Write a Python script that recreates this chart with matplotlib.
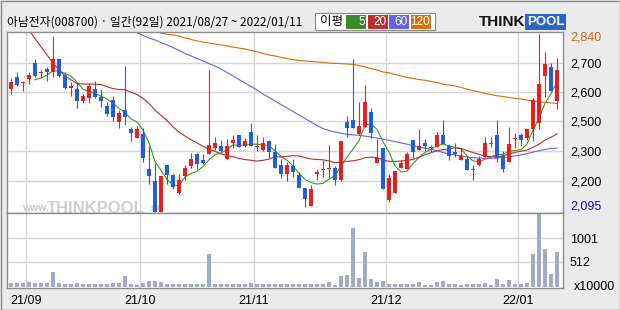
import numpy as np
import pandas as pd
import matplotlib
matplotlib.use("Agg")
import matplotlib.pyplot as plt
from matplotlib.patches import Rectangle

plt.rcParams['font.family'] = ['Noto Sans CJK KR', 'DejaVu Sans']

nan = np.nan

title = "아남전자(008700) · 일간(92일) 2021/08/27 ~ 2022/01/11"

# 일봉 (2021/08/27 ~ 2022/01/11, 92일)
opens = [2610, 2660, 2635, 2650, 2720, 2675, 2695, 2680, 2735, 2670,
         2615, 2610, 2560, 2570, 2610, 2575, 2540, 2565, 2470, 2520,
         2440, 2405, 2420, 2275, 2225, 2095, 2290, 2250, 2175, 2245,
         2285, 2335, 2310, 2335, 2360, 2370, 2315, 2385, 2415, 2370,
         2430, 2365, 2355, 2390, 2345, 2290, 2255, 2285, 2250, 2195,
         2120, 2255, 2270, 2275, 2280, 2230, 2470, 2480, 2420, 2450,
         2515, 2300, 2360, 2145, 2175, 2280, 2275, 2395, 2355, 2385,
         2365, 2365, 2415, 2370, 2345, 2310, 2315, 2270, 2290, 2325,
         2385, 2415, 2330, 2305, 2400, 2415, 2405, 2440, 2465, 2665,
         2700, 2560]
highs = [2655, 2680, 2645, 2680, 2735, 2690, 2700, 2830, 2735, 2680,
         2640, 2635, 2590, 2635, 2645, 2610, 2555, 2580, 2520, 2705,
         2450, 2455, 2445, 2370, 2300, 2245, 2290, 2255, 2255, 2290,
         2340, 2340, 2335, 2690, 2410, 2395, 2400, 2415, 2415, 2405,
         2465, 2415, 2410, 2395, 2380, 2315, 2305, 2315, 2260, 2195,
         2205, 2275, 2310, 2375, 2285, 2390, 2495, 2735, 2555, 2625,
         2530, 2400, 2360, 2255, 2265, 2310, 2345, 2395, 2440, 2400,
         2375, 2430, 2480, 2380, 2385, 2360, 2330, 2290, 2330, 2410,
         2410, 2480, 2350, 2450, 2425, 2425, 2440, 2570, 2840, 2765,
         2720, 2740]
lows = [2590, 2620, 2600, 2630, 2660, 2655, 2645, 2660, 2660, 2610,
        2580, 2530, 2550, 2550, 2570, 2535, 2495, 2475, 2445, 2460,
        2390, 2405, 2305, 2210, 2095, 2095, 2210, 2190, 2170, 2230,
        2280, 2275, 2295, 2335, 2355, 2345, 2315, 2360, 2365, 2365,
        2370, 2350, 2350, 2320, 2280, 2235, 2225, 2240, 2195, 2115,
        2120, 2230, 2240, 2235, 2205, 2225, 2410, 2445, 2415, 2450,
        2405, 2300, 2190, 2135, 2175, 2280, 2275, 2320, 2355, 2350,
        2345, 2365, 2380, 2310, 2325, 2310, 2270, 2230, 2285, 2325,
        2365, 2305, 2260, 2305, 2360, 2370, 2395, 2390, 2440, 2575,
        2600, 2525]
closes = [2640, 2625, 2640, 2670, 2665, 2680, 2680, 2735, 2665, 2615,
          2620, 2560, 2580, 2620, 2575, 2560, 2505, 2490, 2510, 2490,
          2425, 2440, 2320, 2245, 2095, 2245, 2250, 2200, 2230, 2280,
          2315, 2295, 2300, 2375, 2385, 2350, 2370, 2395, 2365, 2390,
          2370, 2370, 2385, 2345, 2280, 2255, 2290, 2260, 2195, 2150,
          2190, 2260, 2275, 2280, 2230, 2390, 2445, 2445, 2455, 2555,
          2425, 2320, 2190, 2235, 2265, 2300, 2335, 2345, 2370, 2370,
          2360, 2415, 2380, 2330, 2335, 2330, 2270, 2275, 2315, 2385,
          2380, 2320, 2275, 2380, 2405, 2395, 2440, 2565, 2630, 2715,
          2600, 2690]
# 거래량 (x10000)
volumes = [82, 82, 82, 102, 82, 82, 82, 307, 68, 61,
           61, 82, 48, 61, 61, 48, 61, 82, 82, 225,
           55, 34, 82, 123, 123, 102, 61, 61, 48, 61,
           61, 48, 48, 676, 61, 48, 61, 48, 48, 48,
           82, 48, 48, 61, 61, 48, 48, 48, 48, 48,
           48, 48, 61, 102, 34, 219, 239, 1209, 184, 717,
           157, 102, 123, 61, 48, 61, 61, 48, 102, 34,
           34, 102, 123, 61, 61, 34, 61, 48, 48, 82,
           34, 157, 61, 137, 61, 48, 82, 669, 1489, 785,
           260, 717]

# 이평선: 20일선 앞부분, 60/120일선은 차트에서 읽은 값 (기간 이전 데이터 필요)
ma20_lead = [nan, nan, nan, 2856, 2821, 2786, 2752, 2719, 2689, 2664,
             2648, 2633, 2630, 2630, 2630, 2628, 2619, 2611, 2607]
ma60 = [nan] * 21 + [
    2845, 2834, 2823, 2815, 2804, 2794, 2783, 2771, 2758, 2748,
    2737, 2727, 2716, 2706, 2693, 2679, 2664, 2649, 2635, 2620,
    2605, 2588, 2574, 2559, 2544, 2530, 2515, 2500, 2486, 2471,
    2456, 2444, 2435, 2429, 2424, 2419, 2417, 2415, 2412, 2408,
    2404, 2399, 2394, 2389, 2383, 2378, 2372, 2366, 2361, 2356,
    2351, 2343, 2337, 2333, 2329, 2324, 2321, 2320, 2319, 2319,
    2320, 2323, 2324, 2329, 2333, 2339, 2345, 2351, 2356, 2360,
    2362]
ma120 = [nan] * 25 + [
    2844, 2839, 2836, 2832, 2823, 2817, 2811, 2806, 2802, 2798,
    2794, 2790, 2785, 2781, 2777, 2771, 2765, 2758, 2752, 2748,
    2742, 2737, 2733, 2729, 2727, 2725, 2723, 2721, 2718, 2717,
    2716, 2714, 2713, 2708, 2702, 2695, 2689, 2681, 2677, 2670,
    2664, 2658, 2654, 2649, 2646, 2641, 2637, 2630, 2626, 2622,
    2616, 2609, 2603, 2597, 2591, 2586, 2581, 2578, 2574, 2570,
    2568, 2563, 2559, 2556, 2554, 2551, 2549]

month_idx = [3, 22, 41, 63, 85]
month_labels = ['21/09', '21/10', '21/11', '21/12', '22/01']
price_grid = [2717, 2596, 2475, 2348, 2225]
price_grid_labels = ['2,700', '2,600', '2,500', '2,300', '2,200']
vol_grid = [512, 1001]
vol_grid_labels = ['512', '1001']
ma_names = ['5', '20', '60', '120']

RED = '#f01c1c'
BLUE = '#1f5ee0'
MA_COLORS = ['#3a9a1c', '#b5302a', '#6a62dc', '#d86c00']
BOX_COLORS = ['#3d8c2c', '#c0302a', '#6464e0', '#e07000']
GRID = '#d6d6d6'
FRAME = '#8c8c8c'
NUM_FONT = ['Liberation Sans', 'DejaVu Sans']

W, H = 620, 310


def fx(px):
    return px / W


def fy(py):
    return 1 - py / H


s_close = pd.Series(closes, dtype=float)
ma5 = s_close.rolling(5).mean().values
ma20 = s_close.rolling(20).mean().values
ma20[:len(ma20_lead)] = ma20_lead

x = np.arange(len(closes))
o = np.array(opens, float)
c = np.array(closes, float)
col = np.where(c >= o, RED, BLUE)

fig = plt.figure(figsize=(6.2, 3.1), dpi=100, facecolor='#ebebeb')
ax = fig.add_axes([fx(7), fy(212.5), fx(556), 180.8 / H])
axv = fig.add_axes([fx(7), fy(287.7), fx(556), 75.2 / H], sharex=ax)

for a in (ax, axv):
    a.set_facecolor('white')
    for sp in a.spines.values():
        sp.set_color(FRAME)
        sp.set_linewidth(1)
    a.set_xticks([m - 0.5 for m in month_idx])
    a.grid(True, color=GRID, linewidth=1)
    a.set_axisbelow(True)
    a.yaxis.tick_right()
    a.tick_params(length=0, colors='black')

ax.set_xlim(-0.67, 92)
ax.set_ylim(2091.7, 2849.6)

# 워터마크
ax.text(1.9, 2098, 'www.', fontsize=7.5, color='#c8c8c8', weight='bold',
        family=NUM_FONT, zorder=1)
ax.text(6.0, 2088, 'THINKPOOL', fontsize=12, color='#cfcfcf', weight='bold',
        family=NUM_FONT, zorder=1)
ax.text(22.8, 2098, '.co', fontsize=7.5, color='#c8c8c8', weight='bold',
        family=NUM_FONT, zorder=1)

# 이동평균선
for vals, color in zip([ma5, ma20, ma60, ma120], MA_COLORS):
    ax.plot(x, vals, color=color, linewidth=0.8, zorder=2)

# 캔들
ax.vlines(x, lows, highs, colors=col, linewidth=0.8, zorder=3)
body_lo = np.minimum(o, c)
body_h = np.maximum(np.abs(c - o), 4.5)
ax.bar(x, body_h, bottom=body_lo, width=0.76, color=col, linewidth=0, zorder=4)

ax.set_yticks(price_grid)
ax.set_yticklabels(price_grid_labels, family=NUM_FONT, fontsize=9)
ax.tick_params(axis='y', pad=5)
ax.tick_params(axis='x', labelbottom=False)

# 최고/최저 표시
hi_i = int(np.argmax(highs))
lo_i = int(np.argmin(lows))
ax.annotate(f"{highs[hi_i]:,}", xy=(1, highs[hi_i]), xycoords=ax.get_yaxis_transform(),
            xytext=(5, -2.3), textcoords='offset points', va='center', ha='left',
            color='#c8640a', fontsize=9, family=NUM_FONT, annotation_clip=False)
ax.annotate(f"{lows[lo_i]:,}", xy=(1, lows[lo_i]), xycoords=ax.get_yaxis_transform(),
            xytext=(5, 3.6), textcoords='offset points', va='center', ha='left',
            color='#0a14c8', fontsize=9, family=NUM_FONT, annotation_clip=False)

# 거래량
axv.bar(x, volumes, width=0.82, color='#a2abc4', linewidth=0, zorder=2)
axv.set_ylim(-20, 1530)
axv.set_yticks(vol_grid)
axv.set_yticklabels(vol_grid_labels, family=NUM_FONT, fontsize=9)
axv.tick_params(axis='y', pad=5)
axv.set_xticklabels(month_labels, family=NUM_FONT, fontsize=9)
axv.tick_params(axis='x', pad=5)
axv.text(1.02, 0.01, 'x10000', transform=axv.transAxes, ha='left', va='center',
         fontsize=9, family=NUM_FONT)

# 제목
fig.text(fx(7), fy(22), title, va='center', ha='left', fontsize=8.5)

# 이평 범례
fig.add_artist(Rectangle((fx(315), fy(30)), fx(120), 17.3 / H, transform=fig.transFigure,
                         facecolor='white', edgecolor='#8c8c8c', linewidth=0.8))
fig.text(fx(320), fy(21.5), '이평', va='center', ha='left', fontsize=9)
for k, (name, bc) in enumerate(zip(ma_names, BOX_COLORS)):
    x0 = 346 + k * 21.5
    fig.add_artist(Rectangle((fx(x0), fy(28.5)), fx(20), 13.5 / H,
                             transform=fig.transFigure, facecolor=bc, edgecolor='none'))
    fig.text(fx(x0 + 19), fy(21.8), name, va='center', ha='right', fontsize=8.5,
             color='white', family=NUM_FONT)

# 로고
fig.text(fx(525), fy(22), 'THINK', va='center', ha='right', fontsize=11,
         weight='bold', color='#111111', family=NUM_FONT)
fig.text(fx(527), fy(22), 'POOL', va='center', ha='left', fontsize=9.5,
         weight='bold', color='white', family=NUM_FONT,
         bbox=dict(boxstyle='square,pad=0.12', facecolor='#2d64c8', edgecolor='none'))

# 외곽선
fig.add_artist(Rectangle((0.5 / W, 0.5 / H), 1 - 1 / W, 1 - 1 / H, transform=fig.transFigure,
                         fill=False, edgecolor='#8a8a8a', linewidth=1))

fig.savefig('out.png', dpi=100, facecolor=fig.get_facecolor())
